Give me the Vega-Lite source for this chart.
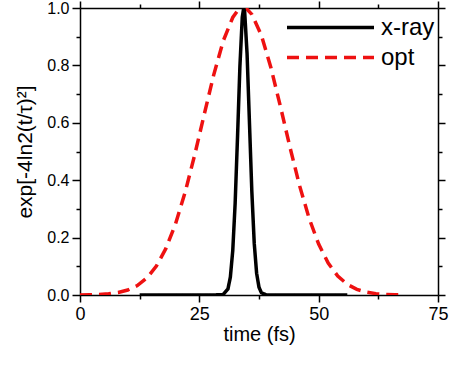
{
  "$schema": "https://vega.github.io/schema/vega-lite/v6.json",
  "width": 358,
  "height": 287,
  "autosize": {"type": "none"},
  "padding": {"left": 80, "top": 8, "right": 36, "bottom": 76},
  "background": "white",
  "config": {
    "view": {"stroke": null},
    "font": "Liberation Sans",
    "axis": {
      "grid": false,
      "domainColor": "black",
      "domainWidth": 1.5,
      "tickColor": "black",
      "tickWidth": 1.5,
      "labelColor": "black",
      "titleColor": "black",
      "labelFont": "Liberation Sans",
      "titleFont": "Liberation Sans",
      "labelFontSize": 16,
      "titleFontSize": 20,
      "titleFontWeight": "normal"
    }
  },
  "data": {
    "values": [
      {"series": "opt", "t": 0, "v": 0.0003},
      {"series": "opt", "t": 2, "v": 0.0008},
      {"series": "opt", "t": 4, "v": 0.0018},
      {"series": "opt", "t": 6, "v": 0.004},
      {"series": "opt", "t": 8, "v": 0.0086},
      {"series": "opt", "t": 10, "v": 0.0173},
      {"series": "opt", "t": 12, "v": 0.0328},
      {"series": "opt", "t": 14, "v": 0.0591},
      {"series": "opt", "t": 16, "v": 0.1007},
      {"series": "opt", "t": 18, "v": 0.1622},
      {"series": "opt", "t": 20, "v": 0.2472},
      {"series": "opt", "t": 22, "v": 0.3564},
      {"series": "opt", "t": 24, "v": 0.4862},
      {"series": "opt", "t": 26, "v": 0.6275},
      {"series": "opt", "t": 28, "v": 0.7661},
      {"series": "opt", "t": 30, "v": 0.8849},
      {"series": "opt", "t": 32, "v": 0.967},
      {"series": "opt", "t": 33, "v": 0.99},
      {"series": "opt", "t": 34.2, "v": 1.0},
      {"series": "opt", "t": 35, "v": 0.9956},
      {"series": "opt", "t": 36, "v": 0.9778},
      {"series": "opt", "t": 38, "v": 0.9047},
      {"series": "opt", "t": 40, "v": 0.792},
      {"series": "opt", "t": 42, "v": 0.656},
      {"series": "opt", "t": 44, "v": 0.5139},
      {"series": "opt", "t": 46, "v": 0.381},
      {"series": "opt", "t": 48, "v": 0.2671},
      {"series": "opt", "t": 50, "v": 0.1772},
      {"series": "opt", "t": 52, "v": 0.1112},
      {"series": "opt", "t": 54, "v": 0.066},
      {"series": "opt", "t": 56, "v": 0.0371},
      {"series": "opt", "t": 58, "v": 0.0197},
      {"series": "opt", "t": 60, "v": 0.0099},
      {"series": "opt", "t": 62, "v": 0.0047},
      {"series": "opt", "t": 64, "v": 0.0021},
      {"series": "opt", "t": 66, "v": 0.0009},
      {"series": "opt", "t": 68, "v": 0.0004},
      {"series": "x-ray", "t": 12.5, "v": 0},
      {"series": "x-ray", "t": 28, "v": 0},
      {"series": "x-ray", "t": 30, "v": 0.0014},
      {"series": "x-ray", "t": 31, "v": 0.0213},
      {"series": "x-ray", "t": 31.5, "v": 0.0625},
      {"series": "x-ray", "t": 32, "v": 0.154},
      {"series": "x-ray", "t": 32.5, "v": 0.318},
      {"series": "x-ray", "t": 33, "v": 0.55},
      {"series": "x-ray", "t": 33.5, "v": 0.797},
      {"series": "x-ray", "t": 34, "v": 0.969},
      {"series": "x-ray", "t": 34.3, "v": 1.0},
      {"series": "x-ray", "t": 34.5, "v": 0.986},
      {"series": "x-ray", "t": 35, "v": 0.841},
      {"series": "x-ray", "t": 35.5, "v": 0.601},
      {"series": "x-ray", "t": 36, "v": 0.36},
      {"series": "x-ray", "t": 36.5, "v": 0.1805},
      {"series": "x-ray", "t": 37, "v": 0.0759},
      {"series": "x-ray", "t": 37.5, "v": 0.0268},
      {"series": "x-ray", "t": 38, "v": 0.0079},
      {"series": "x-ray", "t": 39, "v": 0.0004},
      {"series": "x-ray", "t": 41, "v": 0},
      {"series": "x-ray", "t": 56, "v": 0}
    ]
  },
  "layer": [
    {
      "transform": [{"filter": "datum.series == 'opt'"}],
      "mark": {"type": "line", "strokeWidth": 3.5, "clip": true},
      "encoding": {
        "x": {
          "field": "t", "type": "quantitative",
          "scale": {"domain": [0, 75], "nice": false, "zero": false},
          "axis": {
            "orient": "bottom",
            "title": "time (fs)",
            "values": [0, 12.5, 25, 37.5, 50, 62.5, 75],
            "labelExpr": "datum.value % 25 == 0 ? format(datum.value, 'd') : ''",
            "tickSize": {"condition": {"test": "datum.value % 25 != 0", "value": 4}, "value": 7},
            "labelFontSize": 18,
            "labelPadding": 3,
            "labelFlush": false,
            "labelOverlap": false,
            "titlePadding": 1
          }
        },
        "y": {
          "field": "v", "type": "quantitative",
          "scale": {"domain": [0, 1], "nice": false},
          "axis": {
            "orient": "left",
            "title": "exp[-4ln2(t/τ)²]",
            "titleFontSize": 21,
            "values": [0, 0.1, 0.2, 0.3, 0.4, 0.5, 0.6, 0.7, 0.8, 0.9, 1.0],
            "labelExpr": "round(datum.value * 10) % 2 == 0 ? format(datum.value, '.1f') : ''",
            "tickSize": {"condition": {"test": "round(datum.value * 10) % 2 != 0", "value": 4}, "value": 8},
            "labelPadding": 3,
            "labelFlush": false,
            "labelOverlap": false,
            "titlePadding": 11
          }
        },
        "color": {
          "field": "series", "type": "nominal",
          "scale": {"domain": ["x-ray", "opt"], "range": ["#000000", "#ee1111"]},
          "legend": {
            "title": null, "orient": "none", "legendX": 234, "legendY": 3,
            "symbolType": "M-3,0H3", "symbolSize": 841, "symbolStrokeWidth": 3.5,
            "labelFontSize": 24, "labelFont": "Liberation Sans", "labelColor": "black",
            "labelOffset": 34, "rowPadding": 1, "padding": 0
          }
        },
        "strokeDash": {
          "field": "series", "type": "nominal",
          "scale": {"domain": ["x-ray", "opt"], "range": [[1, 0], [12, 7]]},
          "legend": {
            "title": null, "orient": "none", "legendX": 234, "legendY": 3,
            "symbolType": "M-3,0H3", "symbolSize": 841, "symbolStrokeWidth": 3.5,
            "labelFontSize": 24, "labelFont": "Liberation Sans", "labelColor": "black",
            "labelOffset": 34, "rowPadding": 1, "padding": 0
          }
        }
      }
    },
    {
      "transform": [{"filter": "datum.series == 'x-ray'"}],
      "mark": {"type": "line", "strokeWidth": 3.5, "clip": true},
      "encoding": {
        "x": {
          "field": "t", "type": "quantitative",
          "scale": {"domain": [0, 75], "nice": false, "zero": false},
          "axis": {
            "orient": "top",
            "title": null,
            "labels": false,
            "values": [0, 12.5, 25, 37.5, 50, 62.5, 75],
            "tickSize": {"condition": {"test": "datum.value % 25 != 0", "value": 4}, "value": 7}
          }
        },
        "y": {
          "field": "v", "type": "quantitative",
          "scale": {"domain": [0, 1], "nice": false},
          "axis": {
            "orient": "right",
            "title": null,
            "labels": false,
            "values": [0, 0.1, 0.2, 0.3, 0.4, 0.5, 0.6, 0.7, 0.8, 0.9, 1.0],
            "tickSize": {"condition": {"test": "round(datum.value * 10) % 2 != 0", "value": 4}, "value": 7}
          }
        },
        "color": {"field": "series", "type": "nominal"},
        "strokeDash": {"field": "series", "type": "nominal"}
      }
    }
  ],
  "resolve": {"axis": {"x": "independent", "y": "independent"}}
}
